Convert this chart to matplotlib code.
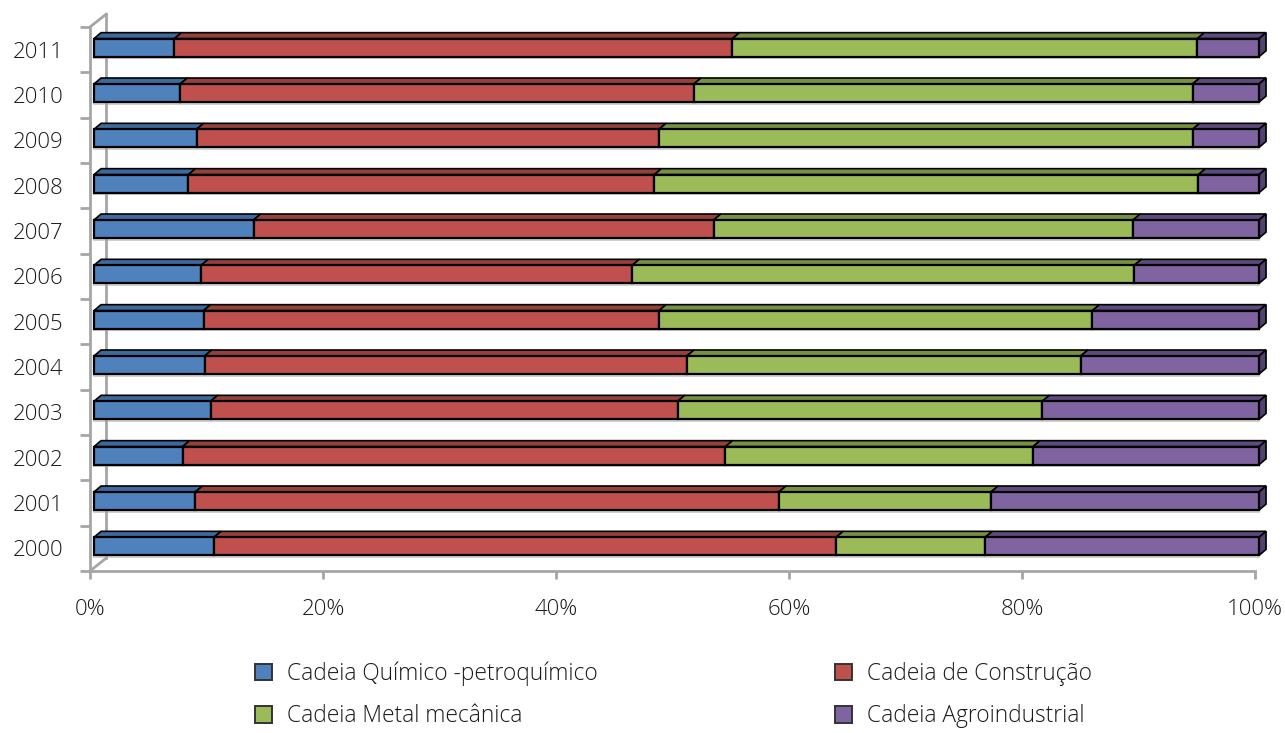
import numpy as np
import matplotlib.pyplot as plt
from matplotlib.patches import Polygon, Rectangle

# participação de cada cadeia produtiva (%), 2000-2011
anos = ['2000', '2001', '2002', '2003', '2004', '2005',
        '2006', '2007', '2008', '2009', '2010', '2011']
quimico = [10.3, 8.7, 7.6, 10.0, 9.5, 9.4, 9.2, 13.7, 8.1, 8.8, 7.4, 6.9]
construcao = [53.4, 50.1, 46.6, 40.1, 41.4, 39.1, 37.0, 39.5, 40.0, 39.7, 44.1, 47.9]
metal = [12.8, 18.2, 26.4, 31.3, 33.8, 37.2, 43.1, 36.0, 46.7, 45.8, 42.8, 39.9]
agro = [23.5, 23.0, 19.4, 18.6, 15.3, 14.3, 10.7, 10.8, 5.2, 5.7, 5.7, 5.3]

series = [quimico, construcao, metal, agro]
nomes = ['Cadeia Químico -petroquímico', 'Cadeia de Construção',
         'Cadeia Metal mecânica', 'Cadeia Agroindustrial']
cores = ['#4F81BD', '#C0504D', '#9BBB59', '#8064A2']
topo = ['#3D6A9E', '#963F3D', '#76913F', '#5F4A7E']
lado = '#54406F'

plt.rcParams['font.family'] = ['Open Sans', 'DejaVu Sans']
plt.rcParams['font.weight'] = 'light'

fig = plt.figure(figsize=(12.85, 7.33), dpi=100)
ax = fig.add_axes([90 / 1285, 1 - 571 / 733, 1185 / 1285, 561 / 733])
ax.set_xlim(0, 101.72)
ax.set_ylim(-0.5, 11.875)

# deslocamento da perspectiva 3D
x_off = 0.35          # face frontal das barras em relação ao eixo
dx, dy = 0.6, 0.13    # profundidade das barras
h = 0.40              # altura da face frontal
y_off = 0.045

for i, ano in enumerate(anos):
    esq = 0.0
    yc = i + y_off
    yb, yt = yc - h / 2, yc + h / 2
    for k, s in enumerate(series):
        v = s[i]
        x0, x1 = esq + x_off, esq + v + x_off
        ax.add_patch(Rectangle((x0, yb), v, h, facecolor=cores[k],
                               edgecolor='black', lw=1.6, zorder=3))
        ax.add_patch(Polygon([(x0, yt), (x1, yt), (x1 + dx, yt + dy), (x0 + dx, yt + dy)],
                             closed=True, facecolor=topo[k], edgecolor='black',
                             lw=1.2, zorder=2))
        esq += v
    # face lateral direita
    xr = esq + x_off
    ax.add_patch(Polygon([(xr, yb), (xr, yt), (xr + dx, yt + dy), (xr + dx, yb + dy)],
                         closed=True, facecolor=lado, edgecolor='black', lw=1.2, zorder=2))
    # sombra clara sob a barra
    ax.plot([x_off, xr], [yb - 0.035, yb - 0.035], color='#C8C8C8', lw=1.2, zorder=1)

# parede de fundo e eixos
cinza = '#A6A6A6'
wx, wy = 1.37, 0.28
ax.plot([wx, wx], [-0.5 + wy, 11.5 + wy], color=cinza, lw=2, zorder=1, clip_on=False)
ax.plot([0, wx], [11.5, 11.5 + wy], color=cinza, lw=2, zorder=1, clip_on=False)
ax.plot([0, wx], [-0.5, -0.5 + wy], color=cinza, lw=2, zorder=1, clip_on=False)

for lado_sp in ['top', 'right']:
    ax.spines[lado_sp].set_visible(False)
for sp in ['left', 'bottom']:
    ax.spines[sp].set_color(cinza)
    ax.spines[sp].set_linewidth(2)
ax.spines['left'].set_bounds(-0.5, 11.5)
ax.spines['bottom'].set_bounds(0, 100)

ax.set_xticks(np.arange(0, 101, 20))
ax.set_xticklabels([f'{t}%' for t in range(0, 101, 20)])
ax.tick_params(axis='x', length=6, width=2, color=cinza, pad=14,
               labelsize=16, labelcolor='#1A1A1A')

ax.set_yticks(np.arange(12))
ax.set_yticklabels(anos)
ax.set_yticks(np.arange(-0.5, 12, 1), minor=True)
ax.tick_params(axis='y', which='major', length=0, pad=19,
               labelsize=16, labelcolor='#1A1A1A')
ax.tick_params(axis='y', which='minor', length=7, width=2, color=cinza)

# legenda (ordem por linha: duas entradas em cada linha)
handles = [Rectangle((0, 0), 1, 1, facecolor=c, edgecolor='#333333', lw=1.4) for c in cores]
ordem = [0, 2, 1, 3]
fig.legend([handles[j] for j in ordem], [nomes[j] for j in ordem],
           loc='center', bbox_to_anchor=(0.524, 0.052),
           ncol=2, frameon=False, fontsize=16.4, handlelength=0.75, handleheight=0.75,
           handletextpad=0.65, columnspacing=10.4, labelspacing=0.8,
           labelcolor='#1A1A1A')

fig.savefig('out.png', dpi=100)
